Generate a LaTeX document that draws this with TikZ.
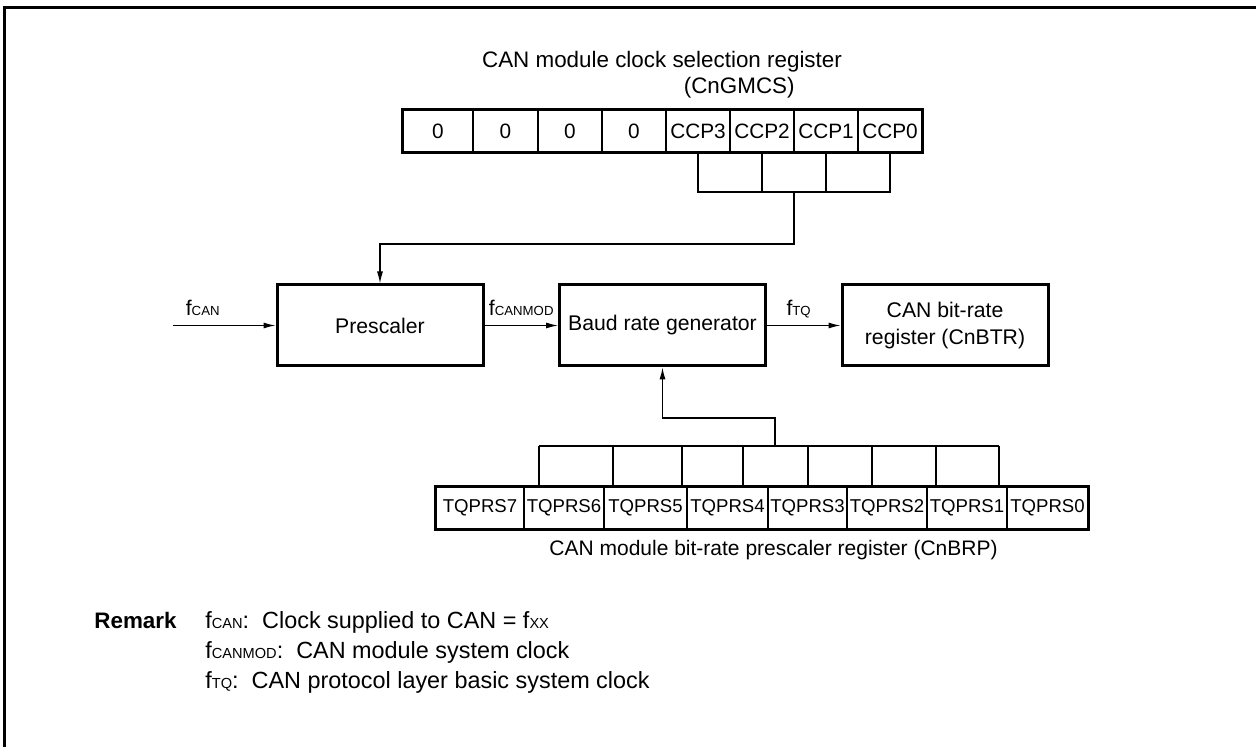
\documentclass[tikz,border=0pt]{standalone}
\usepackage{fontspec}
\setmainfont{Liberation Sans}
\usetikzlibrary{arrows.meta}

% small capitals used for clock names
\newcommand\lowcap[1]{{\fontsize{6.6}{7}\selectfont #1}}
\newcommand\remcap[1]{{\fontsize{7.3}{8}\selectfont #1}}

\tikzset{
  blockbox/.style={draw, line width=1.5pt, minimum width=103pt, minimum height=40.5pt,
    align=center, font=\fontsize{10.6}{13.5}\selectfont},
  bitcell/.style={draw, line width=0.6pt, inner sep=0pt, minimum height=21pt},
  regframe/.style={line width=1.5pt},
  bus/.style={line width=0.6pt},
  sig/.style={line width=0.6pt, -{Latex[length=6pt,width=3pt]}},
  sigl/.style={anchor=base, yshift=4.8pt, inner sep=0pt, font=\fontsize{10.6}{12}\selectfont},
  capt/.style={anchor=base, inner sep=0pt, font=\fontsize{11.2}{12}\selectfont},
  remtxt/.style={anchor=base west, inner sep=0pt, font=\fontsize{11.7}{13}\selectfont},
}

\begin{document}
\begin{tikzpicture}[x=0.5pt, y=-0.5pt]
    \useasboundingbox (0,0) rectangle (1256,747);
    % Frame
    \draw[line width=1.5pt] (4.3,747) -- (4.3,7.3) -- (1256,7.3);

    % CnGMCS register
    \node[capt] (gtitle) at (662,68) {CAN module clock selection register};
    \node[capt, anchor=base east] (gname) at (795,94) {(CnGMCS)};
    \foreach \lft/\rgt/\bit [count=\i] in {403/473/0, 473/538/0, 538/602/0, 602/666/0,
        666/730/CCP3, 730/794/CCP2, 794/858/CCP1, 858/922/CCP0}
        \node[bitcell, minimum width={(\rgt-\lft)*0.5pt}, font=\fontsize{10.4}{12}\selectfont]
            (g\i) at ({(\lft+\rgt)/2},131) {\bit};
    \draw[regframe] (g1.north west) rectangle (g8.south east);

    % CCP bits joined
    \coordinate (gj) at (794,192);
    \coordinate (gbend) at (794,244);
    \draw[bus] (g5.south) |- (g8.south |- gj) -- (g8.south);
    \draw[bus] (g6.south) -- (g6.south |- gj);
    \draw[bus] (g7.south) -- (g7.south |- gj);

    % Blocks
    \node[blockbox] (pre) at (380,325.5) {Prescaler};
    \node[blockbox] (baud) at (662.5,325.5) {Baud rate generator};
    \node[blockbox] (btr) at (945,325.5) {CAN bit-rate\\register (CnBTR)};

    % Clocks
    \coordinate (fin) at (173,325.5);
    \draw[sig] (gj) -- (gbend) -| (pre.north);
    \draw[sig] (fin) -- (pre.west) node[sigl, pos=0.29] (lcan) {f\lowcap{CAN}};
    \draw[sig] (pre.east) -- (baud.west) node[sigl, midway] (lmod) {f\lowcap{CANMOD}};
    \draw[sig] (baud.east) -- (btr.west) node[sigl, pos=0.43] (ltq) {f\lowcap{TQ}};

    % CnBRP register
    \foreach \lft/\rgt/\bit [count=\i] in {436/524/TQPRS7, 524/604/TQPRS6, 604/687/TQPRS5,
        687/768/TQPRS4, 768/847/TQPRS3, 847/927/TQPRS2, 927/1007/TQPRS1, 1007/1088/TQPRS0}
        \node[bitcell, minimum width={(\rgt-\lft)*0.5pt}, font=\fontsize{9.3}{11}\selectfont]
            (p\i) at ({(\lft+\rgt)/2},508) {\bit};
    \draw[regframe] (p1.north west) rectangle (p8.south east);
    \node[capt, anchor=base east, font=\fontsize{10.5}{12}\selectfont] (pname) at (998,555)
        {CAN module bit-rate prescaler register (CnBRP)};

    % TQPRS bits joined
    \coordinate (pj) at (775,446);
    \coordinate (pbend) at (775,418);
    \foreach \x in {539,613,682,743,808,872,936,999}
        \draw[bus] (\x,446) -- (\x,487);
    \draw[bus] (539,446) -- (999,446);
    \draw[sig] (pj) -- (pbend) -| (baud.south);

    % Remark
    \node[remtxt, font=\fontsize{11.2}{13}\selectfont] (rem) at (94,628) {\textbf{Remark}};
    \node[remtxt] (rcan) at (205,628) {f\remcap{CAN}:\ \ Clock supplied to CAN = f\remcap{XX}};
    \node[remtxt] (rmod) at (205,658) {f\remcap{CANMOD}:\ \ CAN module system clock};
    \node[remtxt] (rtq) at (205,688) {f\remcap{TQ}:\ \ CAN protocol layer basic system clock};
\end{tikzpicture}
\end{document}
